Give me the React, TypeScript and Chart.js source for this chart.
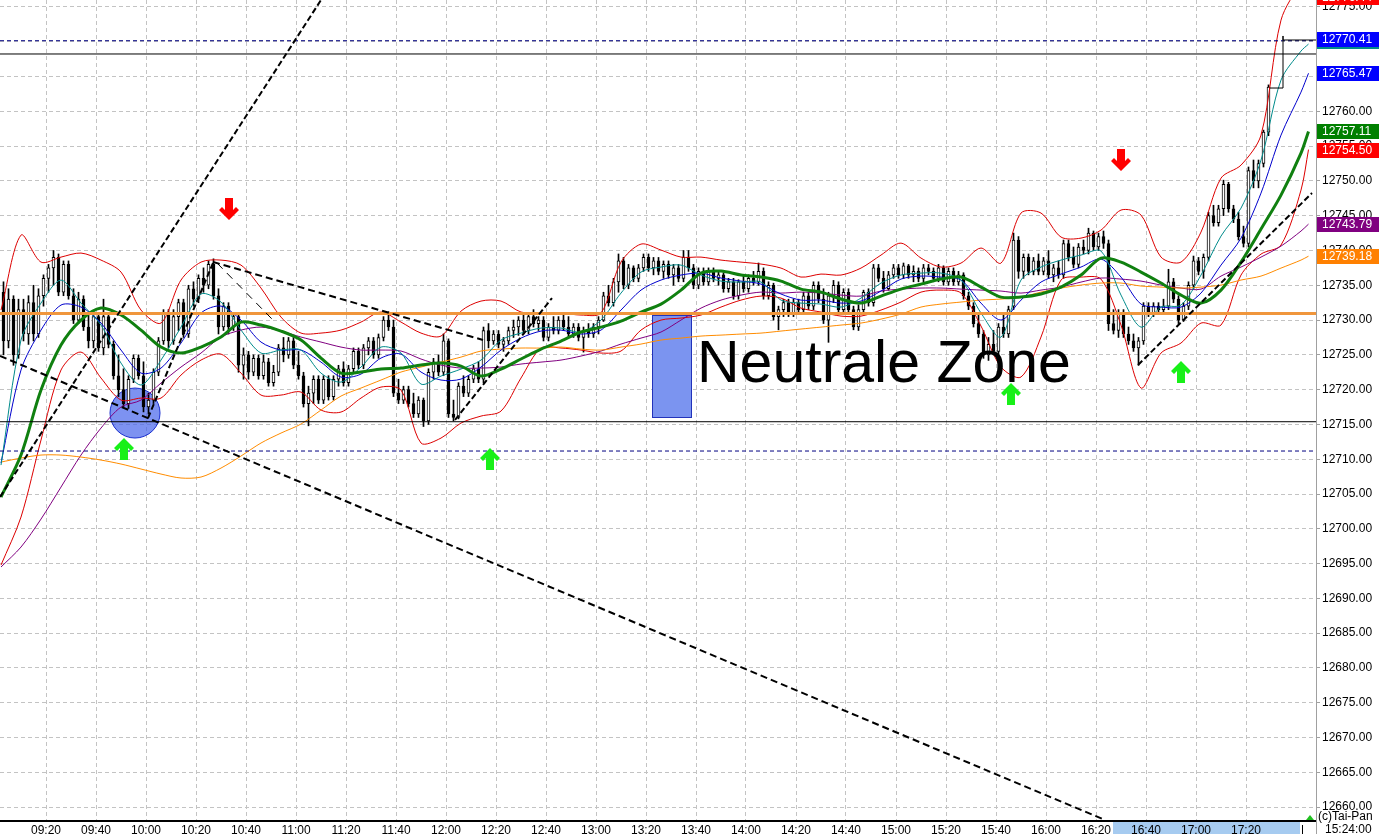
import React, { useEffect, useRef } from 'react';
import { Chart, registerables } from 'chart.js';

Chart.register(...registerables);

// ---------------- DATA ----------------
// prices are stored as points above this base level
const PRICE_BASE = 12700;
// 2-minute candles, time in minutes after 09:00
const candleFirstMinute = 3;
const candleStepMinutes = 2;

const candleOpen = [
  34, 27, 33, 25, 31.5, 28, 32.5, 28, 33.5, 36,
  37.5, 39, 34, 38, 33.5, 30, 33, 29, 27, 30.5,
  26, 30.5, 26.5, 22, 20, 18, 21.5, 24.5, 22, 17.5,
  18.5, 22.5, 27, 31, 27, 30.5, 32.5, 28, 34.5, 33,
  36, 35, 38, 33.5, 29, 32, 29, 30.5, 23.5, 25,
  22.5, 24.5, 22, 24, 21, 22.5, 26, 25, 27, 23.5,
  22, 18, 19.5, 21.5, 18.5, 21.5, 19, 21.5, 23, 21,
  23, 25.5, 23.5, 26, 27, 25, 27.5, 30, 29, 19.5,
  18.5, 20, 18, 16.5, 18.5, 15.5, 22.5, 24, 22.5, 27,
  16.5, 16, 20.5, 19.5, 21.5, 23, 21.5, 28.5, 27, 28,
  26.5, 27, 28.5, 29, 30, 28.5, 30.5, 29.5, 30, 27.5,
  29, 28.5, 30, 29, 28, 29, 27.5, 28.5, 28, 29,
  30, 33.5, 32.5, 35.5, 38.5, 35, 37.5, 36, 37.5, 39,
  37.5, 38.5, 37, 38, 36.5, 37.5, 36, 39, 37.5, 35,
  37, 35.5, 37, 36, 36.5, 34.5, 35.5, 33.5, 35.5, 34.5,
  36, 35.5, 37, 33.5, 35, 30.5, 31.5, 32.5, 31, 32.5,
  31.5, 33.5, 32, 35, 33, 30, 33.5, 35, 31.5, 34,
  31.5, 29, 31.5, 34, 32.5, 37.5, 36, 34.5, 36.5, 37.5,
  36.5, 37.8, 36.5, 37, 36, 37.5, 37, 36, 37.5, 35.5,
  37, 35.5, 36.5, 33.5, 32, 29.5, 28, 25, 26.5, 25.5,
  29, 28, 32, 41.5, 37, 39, 37, 38.5, 37, 38.5,
  36.5, 37.5, 36.5, 41, 39, 38, 40.5, 40, 42.5, 40.5,
  42, 41, 29.5, 28.5, 31, 28, 27, 26, 27, 32,
  31, 32, 31.5, 32, 35.5, 33, 30, 32, 35, 38.5,
  37, 39, 45, 44, 46, 49.5, 46, 44.5, 42, 41,
  51.5, 50, 52.5, 57,
];
const candleHigh = [
  35.5, 34.5, 33.5, 33, 33, 33.5, 35, 34.5, 36.5, 38,
  40, 39.5, 38.5, 38.5, 34.5, 34, 33.5, 31, 31, 31,
  33, 31, 27, 25, 23, 22, 25, 25, 24, 19.5,
  23, 27.5, 31.5, 31.5, 31.5, 33, 33, 35, 35.5, 36.5,
  37.5, 38.5, 38.8, 34.5, 32.5, 32.5, 31, 31, 26, 25.5,
  25, 25, 25, 24.5, 23.5, 26.5, 27.5, 27.5, 27.5, 25.5,
  22.5, 20.5, 22, 22, 22, 22, 22, 23.5, 24, 23.5,
  26, 26, 26.5, 27.5, 27.5, 28, 30.5, 31.2, 30, 21.5,
  20.5, 20.5, 19.5, 19, 18.8, 23, 24.5, 25, 28, 27.3,
  18.5, 21, 22, 22, 23.5, 24, 29, 29.5, 28.5, 28.5,
  27.5, 29, 30, 30.5, 31, 31, 31.5, 30.5, 30.5, 29.5,
  30.5, 30.5, 31, 30.5, 29.5, 29.5, 29, 29.5, 29.5, 30.5,
  34, 35, 36, 39.5, 39, 38, 37.8, 38, 39.5, 39.5,
  39, 39, 38.5, 38.5, 38, 38, 40, 40, 38, 37.5,
  37.5, 37.5, 37.5, 37, 36.8, 36, 36, 35.8, 36.5, 36.5,
  37, 38.2, 37.5, 35.5, 35.3, 32, 33, 33, 33, 33,
  34, 34, 35.5, 35.5, 34.5, 34, 35.7, 35.5, 34.5, 34.5,
  32, 32.2, 34.3, 34.5, 38, 38, 37, 37, 38, 38,
  38.2, 38, 37.8, 37.5, 38, 38, 37.5, 38, 37.8, 37.5,
  37.5, 37, 36.8, 34, 32.5, 31, 28.5, 27.5, 28.5, 29.5,
  31, 32, 42.5, 42, 39.5, 39.5, 39, 39.5, 39, 40,
  38, 38.5, 41.5, 41.5, 40.5, 41, 41.5, 43.2, 42.8, 42.5,
  42.8, 41.5, 31.5, 31.5, 31.5, 29, 28, 27.5, 32.5, 32.5,
  32.5, 32.5, 33, 37.3, 36, 33.5, 32.5, 35.5, 39.2, 39,
  39.5, 45.5, 46.5, 46.5, 50.1, 49.8, 46.5, 45.5, 43.5, 52,
  53, 53, 57.3, 63.8,
];
const candleLow = [
  25, 26, 23.5, 24.5, 27, 26.5, 27, 27.5, 32, 34,
  35, 33.5, 33.5, 33, 29.5, 29.5, 28.5, 26, 26, 25.5,
  25, 26, 21.5, 19, 17.5, 17.3, 21, 21.5, 16.8, 16.5,
  18, 22, 26.5, 26, 26.5, 28.5, 27.5, 27.5, 32, 32.5,
  34, 34.5, 33, 28, 28.5, 28, 28.5, 22.5, 21.5, 21.5,
  22, 21.5, 21.5, 20.5, 20.5, 22, 24, 24.5, 23, 21.5,
  17.5, 14.8, 18, 18, 18, 18.5, 18.5, 20.5, 20.5, 20.5,
  22.5, 23, 23, 25, 24.5, 24.5, 27, 28.5, 19, 18,
  18, 17.5, 16, 16, 14.7, 15, 21.5, 22, 22, 16,
  15.5, 15.8, 19, 19, 21, 21, 21, 26, 26.5, 26,
  25.5, 26.5, 27.5, 27.8, 28, 28, 29, 28.5, 27, 27,
  28, 28, 28.5, 27.5, 27.5, 27, 25.4, 27.5, 27.5, 28,
  29.8, 32, 32, 34, 34.5, 34.5, 35.5, 35.5, 37, 37,
  36.5, 36.5, 36, 36, 35, 35.5, 35.5, 37, 34.5, 34.5,
  35, 35, 35.5, 35, 34, 34, 33, 33, 34, 34,
  35, 35, 33, 33, 30, 28.6, 30.5, 30.5, 30.5, 31,
  31, 31.5, 31.5, 32.5, 29.5, 26.8, 32.5, 31, 31, 31,
  28.6, 28.5, 31, 32, 32, 35.5, 34, 34.3, 36, 36,
  36, 36, 35.5, 35.5, 35.5, 36.5, 35.5, 35.5, 35, 35,
  35, 35, 33, 31.5, 29, 27.5, 24.5, 24.2, 25, 25,
  27.5, 27.5, 31.5, 36, 36, 36.5, 36.5, 36.5, 36.5, 36,
  35.5, 36, 36, 38.5, 37.5, 37.5, 39.5, 39.5, 40, 40,
  40.3, 28.5, 28, 27.5, 27.5, 26.5, 25.5, 23.5, 26.5, 30.5,
  30.5, 31, 31, 31.5, 32.5, 29.5, 29.8, 31.5, 34.5, 36.5,
  36, 38.5, 43.5, 43.5, 45, 45.5, 44, 41.5, 40.5, 40.5,
  49, 49, 52, 56.5,
];
const candleClose = [
  27, 33, 25, 31.5, 28, 32.5, 28, 33.5, 36, 37.5,
  39, 34, 38, 33.5, 30, 33, 29, 27, 30.5, 26,
  30.5, 26.5, 22, 20, 18, 21.5, 24.5, 22, 17.5, 18.5,
  22.5, 27, 31, 27, 30.5, 32.5, 28, 34.5, 33, 36,
  35, 38, 33.5, 29, 32, 29, 30.5, 23.5, 25, 22.5,
  24.5, 22, 24, 21, 22.5, 26, 25, 27, 23.5, 22,
  18, 19.5, 21.5, 18.5, 21.5, 19, 21.5, 23, 21, 23,
  25.5, 23.5, 26, 27, 25, 27.5, 30, 29, 19.5, 18.5,
  20, 18, 16.5, 18.5, 15.5, 22.5, 24, 22.5, 27, 16.5,
  16, 20.5, 19.5, 21.5, 23, 21.5, 28.5, 27, 28, 26.5,
  27, 28.5, 29, 30, 28.5, 30.5, 29.5, 30, 27.5, 29,
  28.5, 30, 29, 28, 29, 27.5, 28.5, 28, 29, 30,
  33.5, 32.5, 35.5, 38.5, 35, 37.5, 36, 37.5, 39, 37.5,
  38.5, 37, 38, 36.5, 37.5, 36, 39, 37.5, 35, 37,
  35.5, 37, 36, 36.5, 34.5, 35.5, 33.5, 35.5, 34.5, 36,
  35.5, 37, 33.5, 35, 30.5, 31.5, 32.5, 31, 32.5, 31.5,
  33.5, 32, 35, 33, 30, 33.5, 35, 31.5, 34, 31.5,
  29, 31.5, 34, 32.5, 37.5, 36, 34.5, 36.5, 37.5, 36.5,
  37.8, 36.5, 37, 36, 37.5, 37, 36, 37.5, 35.5, 37,
  35.5, 36.5, 33.5, 32, 29.5, 28, 25, 26.5, 25.5, 29,
  28, 31.5, 41.5, 37, 39, 37, 38.5, 37, 38.5, 36.5,
  37.5, 36.5, 41, 39, 38, 40.5, 40, 42.5, 40.5, 42,
  41, 29.5, 28.5, 31, 28, 27, 26, 27, 32, 31,
  32, 31.5, 32, 35.5, 33, 30, 32, 35, 38.5, 37,
  39, 45, 44, 46, 49.5, 46, 44.5, 42, 41, 51.5,
  50, 52.5, 57, 63.5,
];

// indicator lines (sampled), minutes after 09:00
const maMinutes = [
  2, 10, 18, 26, 34, 42, 50, 58, 66, 74, 82, 90, 98, 106, 114, 122, 130, 138, 146, 154,
  162, 170, 178, 186, 194, 202, 210, 218, 226, 234, 242, 250, 258, 266, 274, 282, 290, 298, 306, 314,
  322, 330, 338, 346, 354, 362, 370, 378, 386, 394, 402, 410, 418, 426, 434, 442, 450, 458, 466, 474,
  482, 490, 498, 506, 514, 522, 525,
];
const emaFastPts = [
  9.16, 27.13, 32.44, 35.75, 32.44, 29.28, 23.82, 20.66, 24.25, 28.99,
  33.74, 32.59, 28.56, 25.26, 25.69, 25.69, 22.38, 21.09, 23.25, 26.12,
  25.26, 20.8, 21.95, 22.96, 24.25, 27.13, 28.13, 28.85, 28.85, 28.28,
  30.0, 33.88, 36.9, 37.62, 37.9, 36.47, 35.6, 35.46, 35.46, 32.87,
  32.44, 32.3, 31.87, 33.16, 35.32, 36.47, 36.75, 36.75, 35.75, 31.01,
  27.56, 35.75, 37.62, 38.62, 39.34, 39.92, 33.59, 28.99, 31.87, 32.16,
  36.47, 42.07, 46.09, 52.99, 64.49, 68.66, 69.66,
];
const emaMidPts = [
  9.45, 22.82, 28.56, 32.16, 31.87, 29.57, 25.69, 22.38, 23.1, 26.7,
  31.01, 32.01, 30.0, 26.84, 25.69, 25.69, 23.96, 21.81, 22.24, 24.54,
  25.11, 22.53, 21.38, 21.52, 23.25, 25.69, 27.41, 28.42, 28.56, 27.99,
  28.56, 31.44, 34.31, 35.75, 36.47, 36.75, 36.04, 35.6, 35.17, 33.74,
  32.87, 32.87, 32.44, 32.73, 34.17, 35.89, 36.32, 36.18, 35.75, 32.44,
  30.0, 32.87, 35.46, 36.61, 37.62, 38.77, 36.18, 32.3, 31.87, 31.87,
  33.88, 37.9, 41.78, 48.25, 56.58, 62.76, 65.47,
];
const smaPts = [
  4.57, 10.6, 19.94, 26.41, 30.0, 31.72, 30.72, 28.56, 26.12, 25.26,
  26.12, 27.56, 29.71, 29.28, 28.42, 27.13, 24.54, 22.38, 22.53, 22.96,
  23.1, 23.53, 23.82, 23.39, 21.95, 22.96, 24.4, 25.83, 26.98, 28.28,
  28.99, 29.86, 31.15, 32.3, 34.31, 36.75, 37.04, 36.47, 36.18, 35.6,
  34.45, 34.02, 33.02, 32.44, 33.45, 34.45, 35.17, 35.89, 36.18, 34.74,
  33.3, 33.3, 33.74, 34.74, 36.47, 38.91, 38.33, 36.9, 35.32, 33.59,
  32.44, 34.31, 38.33, 43.08, 47.96, 54.0, 57.11,
];
const emaSlowPts = [
  -5.49, -2.62, 1.4, 6.0, 10.6, 14.48, 17.5, 18.5, 20.95, 23.25,
  25.26, 27.56, 28.56, 28.99, 28.42, 27.56, 26.84, 26.12, 25.69, 25.69,
  25.55, 24.4, 23.53, 23.1, 23.1, 23.25, 23.68, 23.96, 24.25, 24.83,
  25.55, 26.55, 27.41, 28.28, 30.0, 31.72, 32.87, 33.59, 34.02, 33.88,
  34.02, 33.88, 33.59, 33.45, 34.17, 34.45, 34.6, 34.6, 34.45, 34.31,
  34.17, 33.88, 34.31, 34.74, 35.46, 36.04, 35.89, 35.6, 35.03, 34.6,
  34.45, 36.32, 37.62, 39.05, 40.63, 42.79, 43.79,
];
const emaLongPts = [
  9.59, 10.17, 10.6, 10.6, 10.31, 9.88, 9.31, 8.59, 7.87, 7.3,
  7.44, 8.73, 10.46, 12.33, 13.76, 15.06, 17.07, 19.08, 20.23, 21.38,
  22.53, 23.25, 23.96, 24.68, 25.55, 25.83, 25.98, 25.98, 26.12, 25.83,
  25.69, 26.12, 26.55, 27.13, 27.41, 27.7, 27.84, 27.99, 28.13, 28.42,
  28.71, 28.99, 29.28, 29.57, 30.14, 30.86, 31.87, 32.3, 32.59, 32.87,
  33.02, 33.3, 34.02, 34.6, 35.03, 35.32, 35.32, 34.89, 34.74, 34.6,
  34.74, 35.03, 35.75, 36.32, 37.47, 38.62, 39.18,
];
const bbUpperPts = [
  31.44, 42.21, 38.33, 39.05, 39.63, 38.62, 36.9, 31.44, 29.57, 35.75,
  38.33, 38.62, 37.9, 34.6, 30.43, 28.13, 28.13, 28.56, 29.71, 31.15,
  29.71, 28.13, 27.7, 31.29, 32.73, 32.73, 31.15, 31.01, 31.01, 30.72,
  31.01, 38.33, 40.92, 40.06, 39.05, 39.05, 38.62, 38.33, 38.05, 37.47,
  36.18, 36.61, 36.47, 37.47, 39.34, 41.06, 38.91, 37.62, 38.19, 40.35,
  38.19, 45.38, 45.38, 41.93, 41.78, 42.93, 45.81, 45.09, 39.05, 38.33,
  42.65, 50.4, 52.27, 56.58, 73.11, 78.5, 79.5,
];
const bbLowerPts = [
  -5.21, 1.69, 12.76, 22.82, 25.4, 21.67, 18.5, 18.79, 18.79, 22.1,
  24.25, 25.11, 22.38, 19.22, 19.22, 19.65, 17.07, 16.78, 18.79, 20.37,
  19.94, 12.33, 13.04, 15.2, 16.2, 16.92, 21.67, 25.98, 25.98, 25.69,
  25.26, 25.55, 28.56, 30.0, 30.29, 30.72, 31.87, 32.87, 33.45, 33.16,
  31.72, 31.15, 30.57, 30.57, 31.44, 32.59, 34.02, 34.31, 33.88, 29.14,
  23.25, 21.81, 27.56, 35.75, 36.18, 35.89, 29.28, 20.23, 25.26, 26.7,
  29.57, 29.28, 36.47, 39.48, 40.78, 48.68, 54.5,
];

// horizontal levels
const levelPrices = [12770.15, 12768.24, 12730.94, 12715.39, 12711.18];

// drawn trend lines: [minute, price] start and end
const trendStart = [
  [1.6, 12704.57], [1.6, 12724.84], [86.8, 12738.35], [88.4, 12738.2],
  [60.8, 12715.92], [183.6, 12715.64], [456.8, 12723.54],
];
const trendEnd = [
  [140, 12781.56], [443.6, 12658.15], [194.8, 12727.14], [110.8, 12730.0],
  [86.8, 12738.2], [222.4, 12733.17], [526.4, 12748.26],
];

// last tick step line
const lastStepMinutes = [509.6, 514.8, 514.8, 514.8, 528.0];
const lastStepPrices = [12763.35, 12763.35, 12770.83, 12770.25, 12770.25];

// signal arrows (tip position)
const upArrowMinutes = [51.2, 197.6, 406.0, 474.0];
const upArrowPrices = [12713.05, 12711.61, 12720.96, 12724.12];
const downArrowMinutes = [93.2, 450.0];
const downArrowPrices = [12744.38, 12751.42];

// marked zones
const circleCenter = [55.6, 12716.64];
const zoneRectMinutes = [262.4, 277.8];
const zoneRectPrices = [12716.0, 12730.73];
const zoneLabel = 'Neutrale Zone';
const zoneLabelAt = [280.4, 12721.1];

// right axis price tags
const priceTagValues = [12770.1, 12776.44, 12770.41, 12765.47, 12757.11, 12754.5, 12743.79, 12739.18];

// axes
const timeTickMinutes = [20, 40, 60, 80, 100, 120, 140, 160, 180, 200, 220, 240, 260, 280, 300, 320, 340, 360, 380, 400, 420, 440, 460, 480, 500];
const timeTickLabels = ['09:20', '09:40', '10:00', '10:20', '10:40', '11:00', '11:20', '11:40', '12:00', '12:20', '12:40', '13:00', '13:20', '13:40', '14:00', '14:20', '14:40', '15:00', '15:20', '15:40', '16:00', '16:20', '16:40', '17:00', '17:20'];
const priceTicks = [12660, 12665, 12670, 12675, 12680, 12685, 12690, 12695, 12700, 12705, 12710, 12715, 12720, 12725, 12730, 12735, 12740, 12745, 12750, 12755, 12760, 12765, 12770, 12775];
const highlightMinutes = [446.8, 521.6];
const clockLabel = '15:24:00';
const copyrightLabel = '(c)Tai-Pan';

// ---------------- STYLE ----------------
const FONT = "'Liberation Sans', Arial, sans-serif";
const X_MIN = 1.6;
const X_MAX = 528.0;
const Y_MIN = 12658.15;
const Y_MAX = 12776.0;
const levelColors = ['#000080', '#000000', '#f0963c', '#000000', '#000080'];
const levelWidths = [1, 1, 3, 1, 1];
const levelDashes = [[4, 3], [], [], [], [4, 3]];
const trendWidths = [2, 2, 2, 1, 2, 2, 2];
const trendDashes = [[6, 3], [7, 4], [7, 4], [8, 6], [6, 3], [6, 3], [6, 3]];
const priceTagColors = ['#008b8b', '#ff0000', '#0000ff', '#0000ff', '#008000', '#ff0000', '#800080', '#ff8000'];

function drawArrow(ctx: CanvasRenderingContext2D, cx: number, tipY: number, dir: number, color: string) {
  const pts = [[0, 0], [10, 10], [7, 13], [4, 10], [4, 22], [-4, 22], [-4, 10], [-7, 13], [-10, 10]];
  ctx.beginPath();
  pts.forEach(([px, py], k) => {
    const X = cx + px;
    const Y = tipY + dir * py;
    if (k === 0) ctx.moveTo(X, Y);
    else ctx.lineTo(X, Y);
  });
  ctx.closePath();
  ctx.fillStyle = color;
  ctx.fill();
}

const overlayPlugin = {
  id: 'overlay',
  beforeDraw(chart: any) {
    const { ctx, chartArea: a, scales } = chart;
    ctx.save();
    ctx.fillStyle = '#ffffff';
    ctx.fillRect(0, 0, chart.width, chart.height);
    const x1 = scales.x.getPixelForValue(highlightMinutes[0]);
    const x2 = scales.x.getPixelForValue(highlightMinutes[1]);
    ctx.fillStyle = '#a6cbf0';
    ctx.fillRect(Math.round(x1), a.bottom + 2, Math.round(x2 - x1), chart.height - a.bottom - 2);
    ctx.restore();
  },
  beforeDatasetsDraw(chart: any) {
    const { ctx, chartArea: a, scales } = chart;
    const xs = scales.x;
    const ys = scales.y;
    ctx.save();
    ctx.beginPath();
    ctx.rect(a.left, a.top, a.right - a.left, a.bottom - a.top);
    ctx.clip();
    // neutral zone rectangle
    const rx1 = Math.round(xs.getPixelForValue(zoneRectMinutes[0])) + 0.5;
    const rx2 = Math.round(xs.getPixelForValue(zoneRectMinutes[1])) + 0.5;
    const ry1 = Math.round(ys.getPixelForValue(zoneRectPrices[1])) + 0.5;
    const ry2 = Math.round(ys.getPixelForValue(zoneRectPrices[0])) + 0.5;
    ctx.fillStyle = '#7b94f0';
    ctx.fillRect(rx1, ry1, rx2 - rx1, ry2 - ry1);
    ctx.strokeStyle = '#2233bb';
    ctx.lineWidth = 1;
    ctx.strokeRect(rx1, ry1, rx2 - rx1, ry2 - ry1);
    // circle at double bottom
    const cx = xs.getPixelForValue(circleCenter[0]);
    const cy = ys.getPixelForValue(circleCenter[1]);
    ctx.beginPath();
    ctx.arc(cx, cy, 25, 0, Math.PI * 2);
    ctx.fillStyle = 'rgba(70,100,235,0.7)';
    ctx.fill();
    ctx.strokeStyle = '#1a2fd0';
    ctx.lineWidth = 1;
    ctx.stroke();
    ctx.restore();
  },
  afterDatasetsDraw(chart: any) {
    const { ctx, chartArea: a, scales } = chart;
    const xs = scales.x;
    const ys = scales.y;
    ctx.save();
    ctx.beginPath();
    ctx.rect(a.left, a.top, a.right - a.left, a.bottom - a.top);
    ctx.clip();
    ctx.fillStyle = '#000000';
    ctx.font = `59px ${FONT}`;
    ctx.textAlign = 'left';
    ctx.textBaseline = 'alphabetic';
    ctx.fillText(zoneLabel, xs.getPixelForValue(zoneLabelAt[0]), ys.getPixelForValue(zoneLabelAt[1]));
    upArrowMinutes.forEach((m, k) => {
      drawArrow(ctx, Math.round(xs.getPixelForValue(m)), ys.getPixelForValue(upArrowPrices[k]), 1, '#18f018');
    });
    downArrowMinutes.forEach((m, k) => {
      drawArrow(ctx, Math.round(xs.getPixelForValue(m)), ys.getPixelForValue(downArrowPrices[k]), -1, '#ff0000');
    });
    ctx.restore();
  },
  afterDraw(chart: any) {
    const { ctx, chartArea: a, scales } = chart;
    const ys = scales.y;
    ctx.save();
    // axis borders
    ctx.fillStyle = '#000000';
    ctx.fillRect(a.left, a.bottom, a.right - a.left, 2);
    ctx.fillStyle = '#a0a0a0';
    ctx.fillRect(a.right, 0, 1, chart.height);
    // price tags
    ctx.font = `12px ${FONT}`;
    ctx.textAlign = 'left';
    ctx.textBaseline = 'middle';
    priceTagValues.forEach((v, k) => {
      const py = Math.round(ys.getPixelForValue(v));
      ctx.fillStyle = priceTagColors[k];
      ctx.fillRect(a.right + 1, py - 7, chart.width - a.right - 1, 15);
      ctx.fillStyle = '#ffffff';
      ctx.fillText(v.toFixed(2), a.right + 6, py + 1);
    });
    // copyright and clock
    ctx.fillStyle = '#ffffff';
    ctx.fillRect(a.right + 1, a.bottom - 10, chart.width - a.right - 1, 12);
    ctx.fillStyle = '#000000';
    ctx.textBaseline = 'alphabetic';
    ctx.fillText(copyrightLabel, a.right + 2, a.bottom);
    ctx.textBaseline = 'top';
    ctx.fillText(clockLabel, a.right + 9, a.bottom + 4);
    // small end marker
    ctx.fillRect(a.right - 14, a.bottom + 5, 1, chart.height - a.bottom - 5);
    ctx.fillStyle = '#20c020';
    ctx.beginPath();
    ctx.moveTo(a.right - 10, a.bottom);
    ctx.lineTo(a.right - 6, a.bottom - 5);
    ctx.lineTo(a.right - 2, a.bottom);
    ctx.closePath();
    ctx.fill();
    ctx.restore();
  },
};

export default function App() {
  const canvasRef = useRef<HTMLCanvasElement | null>(null);

  useEffect(() => {
    const canvas = canvasRef.current;
    if (!canvas) return;
    Chart.defaults.font.family = FONT;

    const candleMinute = (i: number) => candleFirstMinute + candleStepMinutes * i;
    const wickData = candleOpen.map((_, i) => ({
      x: candleMinute(i),
      y: [PRICE_BASE + candleLow[i], PRICE_BASE + candleHigh[i]],
    }));
    const bodyData = candleOpen.map((o, i) => {
      const c = candleClose[i];
      return { x: candleMinute(i), y: [PRICE_BASE + Math.min(o, c), PRICE_BASE + Math.max(o, c)] };
    });
    const bodyColors = candleOpen.map((o, i) => (candleClose[i] >= o ? '#ffffff' : '#000000'));

    const mkLine = (vals: number[], color: string, width: number, order: number) => ({
      type: 'line',
      data: maMinutes.map((m, i) => ({ x: m, y: PRICE_BASE + vals[i] })),
      borderColor: color,
      borderWidth: width,
      pointRadius: 0,
      tension: 0.3,
      fill: false,
      order,
    });

    const levelDatasets = levelPrices.map((v, k) => ({
      type: 'line',
      data: [{ x: X_MIN, y: v }, { x: X_MAX, y: v }],
      borderColor: levelColors[k],
      borderWidth: levelWidths[k],
      borderDash: levelDashes[k],
      pointRadius: 0,
      tension: 0,
      fill: false,
      order: 1,
    }));

    const trendDatasets = trendStart.map((s, k) => ({
      type: 'line',
      data: [{ x: s[0], y: s[1] }, { x: trendEnd[k][0], y: trendEnd[k][1] }],
      borderColor: '#000000',
      borderWidth: trendWidths[k],
      borderDash: trendDashes[k],
      pointRadius: 0,
      tension: 0,
      fill: false,
      order: 0,
    }));

    const stepDataset = {
      type: 'line',
      data: lastStepMinutes.map((m, i) => ({ x: m, y: lastStepPrices[i] })),
      borderColor: '#000000',
      borderWidth: 1,
      pointRadius: 0,
      tension: 0,
      fill: false,
      order: 0,
    };

    const config: any = {
      type: 'line',
      data: {
        datasets: [
          ...trendDatasets,
          stepDataset,
          ...levelDatasets,
          mkLine(smaPts, '#108010', 3, 2),
          mkLine(emaFastPts, '#008b8b', 1, 3),
          mkLine(emaMidPts, '#0000cc', 1, 4),
          mkLine(emaLongPts, '#ff8c00', 1, 5),
          mkLine(emaSlowPts, '#800080', 1, 6),
          mkLine(bbUpperPts, '#dd0000', 1, 7),
          mkLine(bbLowerPts, '#dd0000', 1, 7),
          {
            type: 'bar',
            data: bodyData,
            backgroundColor: bodyColors,
            borderColor: '#000000',
            borderWidth: 1,
            borderSkipped: false,
            barThickness: 3,
            grouped: false,
            order: 8,
          },
          {
            type: 'bar',
            data: wickData,
            backgroundColor: '#000000',
            borderWidth: 0,
            barThickness: 1,
            grouped: false,
            order: 9,
          },
        ],
      },
      options: {
        responsive: false,
        maintainAspectRatio: false,
        devicePixelRatio: 1,
        animation: false,
        events: [],
        layout: { padding: 0 },
        plugins: {
          legend: { display: false },
          tooltip: { enabled: false },
          title: { display: false },
        },
        scales: {
          x: {
            type: 'linear',
            position: 'bottom',
            min: X_MIN,
            max: X_MAX,
            offset: false,
            afterBuildTicks: (scale: any) => {
              scale.ticks = timeTickMinutes.map((v) => ({ value: v }));
            },
            afterFit: (scale: any) => {
              scale.height = 14;
              scale.paddingLeft = 0;
              scale.paddingRight = 0;
            },
            ticks: {
              autoSkip: false,
              maxRotation: 0,
              minRotation: 0,
              padding: 3,
              color: '#000000',
              font: { size: 12, family: FONT },
              callback: (_v: any, i: number) => timeTickLabels[i],
            },
            grid: {
              color: '#c3c3c3',
              lineWidth: 1,
              drawTicks: false,
              offset: false,
            },
            border: { display: false, dash: [4, 3] },
          },
          y: {
            type: 'linear',
            position: 'right',
            min: Y_MIN,
            max: Y_MAX,
            afterBuildTicks: (scale: any) => {
              scale.ticks = priceTicks.map((v) => ({ value: v }));
            },
            afterFit: (scale: any) => {
              scale.width = 63;
              scale.paddingTop = 0;
              scale.paddingBottom = 0;
            },
            ticks: {
              padding: 2,
              color: '#000000',
              font: { size: 12, family: FONT },
              callback: (v: any) => Number(v).toFixed(2),
            },
            grid: {
              color: '#c3c3c3',
              lineWidth: 1,
              drawTicks: true,
              tickLength: 4,
              tickColor: '#a0a0a0',
              tickBorderDash: [],
            },
            border: { display: false, dash: [4, 3] },
          },
        },
      },
      plugins: [overlayPlugin],
    };

    const chart = new Chart(canvas, config);
    return () => {
      chart.destroy();
    };
  }, []);

  return (
    <div style={{ position: 'fixed', left: 0, top: 0, width: 1379, height: 834, background: '#ffffff' }}>
      <canvas ref={canvasRef} width={1379} height={834} style={{ display: 'block', width: 1379, height: 834 }} />
    </div>
  );
}
